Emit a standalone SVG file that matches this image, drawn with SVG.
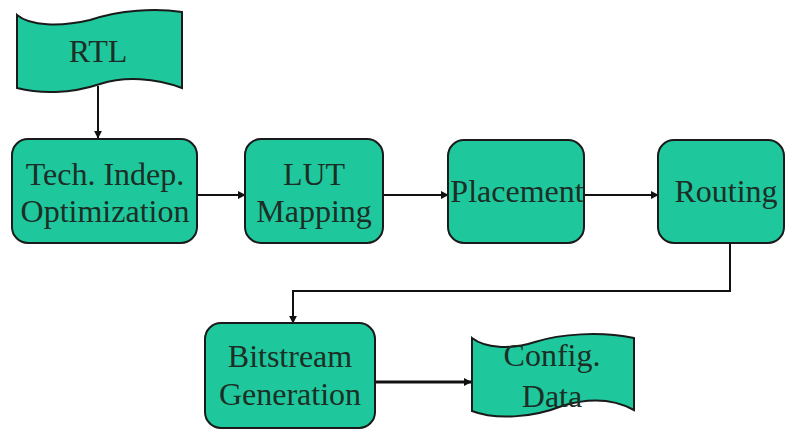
<svg xmlns="http://www.w3.org/2000/svg" width="786" height="429" viewBox="0 0 786 429">
<style>
.n{fill:#1ec89c;stroke:#1a1a1a;stroke-width:2}
.t{font-family:"Liberation Serif",serif;font-size:32px;fill:#1c2e26;text-anchor:middle}
.c{fill:none;stroke:#111;stroke-width:2}
.thick{stroke-width:3}
</style>
<defs>
<marker id="a" viewBox="0 0 10 10" refX="9" refY="5" markerWidth="8" markerHeight="8" orient="auto" markerUnits="userSpaceOnUse">
<path d="M0,0 L10,5 L0,10 z" fill="#111"/>
</marker>
</defs>
<rect width="786" height="429" fill="#fff"/>
<g id="connectors">
<path class="c" d="M98,86 V138" marker-end="url(#a)"/>
<path class="c" d="M197,195 H245" marker-end="url(#a)"/>
<path class="c" d="M383,195 H448" marker-end="url(#a)"/>
<path class="c" d="M584,195 H658" marker-end="url(#a)"/>
<path class="c" d="M730,243 V291 H293 V323" marker-end="url(#a)"/>
<path class="c thick" d="M375,382 H471" marker-end="url(#a)"/>
</g>
<g id="rtl">
<path class="n" d="M17,15 C30,26 60,27 90,20 C120,10 155,8 182,12 L182,88 C155,78 125,76 100,84 C70,94 40,94 17,88 Z"/>
<text class="t" x="98" y="62">RTL</text>
</g>
<g id="tech">
<rect class="n" x="12" y="139" width="185" height="104" rx="16"/>
<text class="t" x="105" y="185">Tech. Indep.</text>
<text class="t" x="105" y="222">Optimization</text>
</g>
<g id="lut">
<rect class="n" x="245" y="139" width="138" height="104" rx="16"/>
<text class="t" x="314" y="185">LUT</text>
<text class="t" x="314" y="222">Mapping</text>
</g>
<g id="placement">
<rect class="n" x="448" y="140" width="136" height="103" rx="16"/>
<text class="t" x="517" y="202">Placement</text>
</g>
<g id="routing">
<rect class="n" x="658" y="140" width="126" height="103" rx="16"/>
<text class="t" x="726" y="202">Routing</text>
</g>
<g id="bitstream">
<rect class="n" x="205" y="323" width="170" height="105" rx="16"/>
<text class="t" x="290" y="367">Bitstream</text>
<text class="t" x="290" y="405">Generation</text>
</g>
<g id="config">
<path class="n" d="M472,338 C485,348 510,350 535,342 C560,334 600,331 634,338 L634,410 C612,398 588,398 562,406 C532,418 495,420 472,411 Z"/>
<text class="t" x="552" y="366">Config.</text>
<text class="t" x="552" y="407">Data</text>
</g>
</svg>
